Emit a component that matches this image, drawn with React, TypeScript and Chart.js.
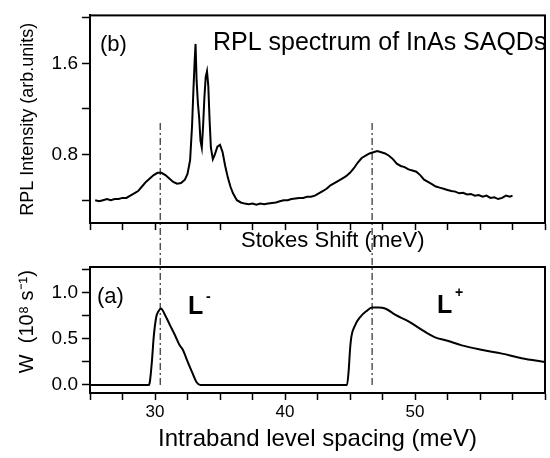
import React, { useEffect, useRef } from 'react';
import { Chart, registerables } from 'chart.js';

Chart.register(...registerables);

// ---- Data: panel (b) RPL spectrum ----
const RPL_X = [
  25.4, 25.7, 26.0, 26.3, 26.6, 26.9, 27.2, 27.5, 27.8, 28.1, 28.4, 28.7, 29.0, 29.3, 29.6, 29.9,
  30.2, 30.5, 30.8, 31.1, 31.4, 31.7, 32.0, 32.3, 32.5, 32.7, 32.85, 32.95, 33.05, 33.12, 33.2,
  33.3, 33.4, 33.5, 33.6, 33.7, 33.8, 33.9, 34.0, 34.1, 34.2, 34.3, 34.45, 34.6, 34.8, 35.0,
  35.2, 35.4, 35.6, 35.8, 36.0, 36.3, 36.6, 36.9, 37.2, 37.5, 37.8, 38.1, 38.4, 38.7, 39.0,
  39.3, 39.6, 39.9, 40.2, 40.5, 40.8, 41.1, 41.4, 41.7, 42.0, 42.3, 42.6, 42.9, 43.2, 43.5,
  43.8, 44.1, 44.4, 44.7, 45.0, 45.3, 45.6, 45.9, 46.2, 46.5, 46.8, 47.1, 47.4, 47.7, 48.0,
  48.3, 48.6, 48.9, 49.2, 49.5, 49.8, 50.1, 50.4, 50.7, 51.0, 51.3, 51.6, 51.9, 52.2, 52.5,
  52.8, 53.1, 53.4, 53.7, 54.0, 54.3, 54.6, 54.9, 55.2, 55.5, 55.8, 56.1, 56.4, 56.7, 57.0,
  57.3, 57.5,
];
const RPL_Y = [
  0.40, 0.39, 0.40, 0.41, 0.40, 0.41, 0.41, 0.42, 0.42, 0.44, 0.46, 0.48, 0.52, 0.56, 0.59, 0.62,
  0.64, 0.64, 0.62, 0.59, 0.56, 0.545, 0.55, 0.58, 0.63, 0.75, 1.05, 1.35, 1.62, 1.77, 1.45,
  1.25, 1.12, 0.92, 0.86, 1.05, 1.30, 1.48, 1.53, 1.40, 1.10, 0.86, 0.76, 0.80, 0.87, 0.885,
  0.82, 0.70, 0.60, 0.52, 0.46, 0.40, 0.38, 0.37, 0.365, 0.37, 0.36, 0.37, 0.365, 0.37, 0.375,
  0.38, 0.39, 0.40, 0.40, 0.41, 0.415, 0.42, 0.42, 0.43, 0.43, 0.44, 0.46, 0.48, 0.50, 0.53,
  0.55, 0.57, 0.59, 0.61, 0.64, 0.68, 0.73, 0.77, 0.79, 0.81, 0.82, 0.83, 0.82, 0.81, 0.79,
  0.76, 0.72, 0.70, 0.69, 0.67, 0.66, 0.65, 0.62, 0.58, 0.56, 0.54, 0.52, 0.51, 0.50, 0.49,
  0.48, 0.475, 0.46, 0.465, 0.45, 0.455, 0.44, 0.445, 0.43, 0.44, 0.42, 0.425, 0.41, 0.42, 0.44,
  0.43, 0.44,
];

// ---- Data: panel (a) W vs intraband level spacing ----
const W_X = [
  25.0, 29.5, 29.6, 29.77, 29.9, 30.1, 30.27, 30.46, 30.77, 31.15, 31.54, 31.9, 32.15, 32.46,
  32.85, 33.2, 33.5, 44.77, 44.9, 45.0, 45.1, 45.4, 45.8, 46.25, 46.7, 47.2, 47.7, 48.5, 49.5,
  50.5, 51.5, 52.5, 53.6, 55.2, 56.7, 58.2, 60.0,
];
const W_Y = [
  0.0, 0.0, 0.03, 0.27, 0.52, 0.74, 0.80, 0.83, 0.76, 0.65, 0.54, 0.43, 0.38, 0.27,
  0.14, 0.03, 0.0, 0.0, 0.16, 0.38, 0.52, 0.65, 0.74, 0.80, 0.84, 0.84, 0.83, 0.76, 0.69,
  0.60, 0.52, 0.48, 0.43, 0.38, 0.34, 0.29, 0.25,
];

// Vertical dash-dot guide lines (x in meV), extent in W units
const MARKER_X = [30.4, 46.7];
const MARKER_W_RANGE = [0, 2.85];

// Ticks
const X_TICKS = [25, 27.5, 30, 32.5, 35, 37.5, 40, 42.5, 45, 47.5, 50, 52.5, 55, 57.5, 60];
const X_TICK_LABELS = [30, 40, 50];
const RPL_Y_TICKS = [0.4, 0.8, 1.2, 1.6, 2.0];
const RPL_Y_LABELS = [0.8, 1.6];
const W_Y_TICKS = [0, 0.25, 0.5, 0.75, 1.0, 1.25];
const W_Y_LABELS = [0, 0.5, 1.0];

const FONT = "'Liberation Sans', Arial, Helvetica, sans-serif";
Chart.defaults.font.family = FONT;
Chart.defaults.color = '#000';

const has = (arr: number[], v: number) => arr.some((a) => Math.abs(a - v) < 1e-6);

const framePlugin = {
  id: 'frame',
  afterDraw(chart: any) {
    const { ctx, chartArea } = chart;
    ctx.save();
    ctx.strokeStyle = '#000';
    ctx.lineWidth = 2;
    ctx.strokeRect(chartArea.left, chartArea.top, chartArea.right - chartArea.left, chartArea.bottom - chartArea.top);
    ctx.restore();
  },
};

const textPlugin = {
  id: 'textLabels',
  afterDatasetsDraw(chart: any, _args: any, opts: any) {
    const { ctx } = chart;
    const xs = chart.scales.x;
    const ys = chart.scales.y;
    ctx.save();
    ctx.fillStyle = '#000';
    ctx.textAlign = 'left';
    ctx.textBaseline = 'middle';
    (opts.items || []).forEach((it: any) => {
      ctx.font = `${it.bold ? 'bold ' : ''}${it.size}px ${FONT}`;
      ctx.fillText(it.text, xs.getPixelForValue(it.x), ys.getPixelForValue(it.y));
    });
    ctx.restore();
  },
};

function xScale(showLabels: boolean, title: string, titleSize: number, height: number) {
  return {
    type: 'linear',
    min: 25,
    max: 60,
    afterBuildTicks: (s: any) => {
      s.ticks = X_TICKS.map((v) => ({ value: v }));
    },
    afterFit: (s: any) => {
      s.height = height;
    },
    ticks: {
      autoSkip: false,
      maxRotation: 0,
      padding: 2,
      font: { size: 17 },
      color: '#000',
      callback: (v: any) => (showLabels && has(X_TICK_LABELS, Number(v)) ? String(v) : ''),
    },
    grid: { drawOnChartArea: false, drawTicks: true, tickLength: 7, tickWidth: 1.5, tickColor: '#000' },
    border: { display: true, color: '#000', width: 2 },
    title: { display: true, text: title, font: { size: titleSize }, color: '#000', padding: { top: 0, bottom: 4 } },
  };
}

function yScale(min: number, max: number, ticks: number[], labels: number[], title: string, titleSize: number, titlePad: number) {
  return {
    type: 'linear',
    min,
    max,
    afterBuildTicks: (s: any) => {
      s.ticks = ticks.map((v) => ({ value: v }));
    },
    afterFit: (s: any) => {
      s.width = 90;
    },
    ticks: {
      autoSkip: false,
      padding: 4,
      font: { size: 19 },
      color: '#000',
      callback: (v: any) => (has(labels, Number(v)) ? Number(v).toFixed(1) : ''),
    },
    grid: { drawOnChartArea: false, drawTicks: true, tickLength: 8, tickWidth: 1.5, tickColor: '#000' },
    border: { display: true, color: '#000', width: 2 },
    title: { display: true, text: title, font: { size: titleSize }, color: '#000', padding: { top: titlePad, bottom: 0 } },
  };
}

export default function App() {
  const topRef = useRef<HTMLCanvasElement | null>(null);
  const botRef = useRef<HTMLCanvasElement | null>(null);

  useEffect(() => {
    const bottom = new Chart(botRef.current as HTMLCanvasElement, {
      type: 'scatter',
      data: {
        datasets: [
          {
            data: W_X.map((x, i) => ({ x, y: W_Y[i] })),
            showLine: true,
            borderColor: '#000',
            borderWidth: 2,
            pointRadius: 0,
            cubicInterpolationMode: 'monotone',
          } as any,
          ...MARKER_X.map(
            (mx) =>
              ({
                data: [
                  { x: mx, y: MARKER_W_RANGE[0] },
                  { x: mx, y: MARKER_W_RANGE[1] },
                ],
                showLine: true,
                borderColor: '#000',
                borderWidth: 1,
                borderDash: [7, 3, 2, 3],
                pointRadius: 0,
                clip: false,
              } as any)
          ),
        ],
      },
      options: {
        animation: false,
        responsive: false,
        devicePixelRatio: 1,
        layout: { padding: { top: 267, right: 5, left: 0, bottom: 0 } },
        plugins: {
          legend: { display: false },
          tooltip: { enabled: false },
          textLabels: {
            items: [
              { text: '(a)', x: 25.54, y: 0.96, size: 22 },
              { text: 'L', x: 32.54, y: 0.84, size: 25, bold: true },
              { text: '-', x: 33.92, y: 0.95, size: 14, bold: true },
              { text: 'L', x: 51.7, y: 0.86, size: 25, bold: true },
              { text: '+', x: 53.08, y: 1.0, size: 14, bold: true },
            ],
          },
        } as any,
        scales: {
          x: xScale(true, 'Intraband level spacing (meV)', 24, 65) as any,
          y: yScale(-0.087, 1.28, W_Y_TICKS, W_Y_LABELS, '   W  (10⁸ s⁻¹)', 20, 15) as any,
        },
      },
      plugins: [framePlugin, textPlugin],
    });

    const top = new Chart(topRef.current as HTMLCanvasElement, {
      type: 'scatter',
      data: {
        datasets: [
          {
            data: RPL_X.map((x, i) => ({ x, y: RPL_Y[i] })),
            showLine: true,
            borderColor: '#000',
            borderWidth: 2,
            pointRadius: 0,
            tension: 0,
          } as any,
        ],
      },
      options: {
        animation: false,
        responsive: false,
        devicePixelRatio: 1,
        layout: { padding: { top: 10, right: 5, left: 0, bottom: 0 } },
        plugins: {
          legend: { display: false },
          tooltip: { enabled: false },
          textLabels: {
            items: [
              { text: '(b)', x: 25.77, y: 1.76, size: 22 },
              { text: 'RPL spectrum of InAs SAQDs', x: 34.46, y: 1.78, size: 25 },
            ],
          },
        } as any,
        scales: {
          x: xScale(false, '     Stokes Shift (meV)', 22, 35) as any,
          y: yScale(0.2, 2.02, RPL_Y_TICKS, RPL_Y_LABELS, 'RPL Intensity (arb.units)', 18, 17) as any,
        },
      },
      plugins: [framePlugin, textPlugin],
    });

    return () => {
      top.destroy();
      bottom.destroy();
    };
  }, []);

  return (
    <div style={{ position: 'fixed', left: 0, top: 0, width: 550, height: 458, background: '#fff' }}>
      <canvas ref={botRef} width={550} height={458} style={{ position: 'absolute', left: 0, top: 0 }} />
      <canvas ref={topRef} width={550} height={258} style={{ position: 'absolute', left: 0, top: 0 }} />
    </div>
  );
}
